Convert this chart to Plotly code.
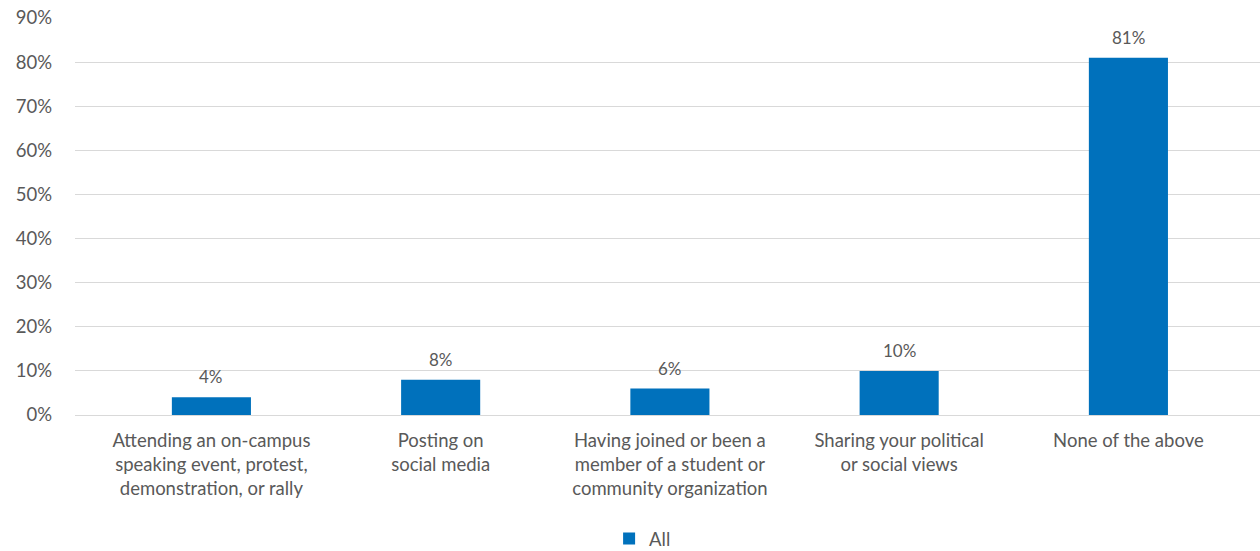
import plotly.graph_objects as go

# Survey responses: share of students reporting each activity
categories = [
    "Attending an on-campus<br>speaking event, protest,<br>demonstration, or rally",
    "Posting on<br>social media",
    "Having joined or been a<br>member of a student or<br>community organization",
    "Sharing your political<br>or social views",
    "None of the above",
]
values_all = [4, 8, 6, 10, 81]
y_ticks = [0, 10, 20, 30, 40, 50, 60, 70, 80, 90]
y_tick_labels = [f"{v}%" for v in y_ticks]

FONT = "Lato"
GREY = "#595959"
BLUE = "#0071BC"

fig = go.Figure()
fig.add_trace(go.Bar(
    x=list(range(len(categories))),
    y=values_all,
    name="All",
    marker=dict(color=BLUE, line=dict(width=0)),
    width=0.345,
    cliponaxis=False,
))

# value labels sitting above each bar
for i, v in enumerate(values_all):
    fig.add_annotation(
        x=i, y=v, text=f"{v}%",
        showarrow=False, yanchor="bottom", yshift=8,
        font=dict(family=FONT, size=17, color=GREY),
    )

fig.update_layout(
    width=1260,
    height=551,
    margin=dict(l=75, r=0, t=18, b=136, autoexpand=False),
    paper_bgcolor="white",
    plot_bgcolor="white",
    font=dict(family=FONT, size=18, color=GREY),
    showlegend=True,
    legend=dict(
        orientation="h",
        xref="container", yref="paper",
        x=0.51, y=-0.312,
        xanchor="center", yanchor="middle",
        bgcolor="rgba(0,0,0,0)",
        font=dict(family=FONT, size=18.5, color=GREY),
        itemwidth=30,
    ),
)

fig.update_xaxes(
    tickmode="array",
    tickvals=list(range(len(categories))),
    ticktext=categories,
    tickangle=0,
    automargin=False,
    range=[-0.595, 4.574],
    showgrid=False,
    showline=False,
    zeroline=False,
    ticks="",
    ticklabelstandoff=12,
    tickfont=dict(family=FONT, size=18.5, color=GREY),
)

fig.update_yaxes(
    range=[0, 90],
    tickmode="array",
    tickvals=y_ticks,
    ticktext=y_tick_labels,
    automargin=False,
    showgrid=True,
    gridcolor="#D9D9D9",
    gridwidth=1,
    zeroline=True,
    zerolinecolor="#D9D9D9",
    zerolinewidth=1,
    showline=False,
    ticks="",
    ticklabelstandoff=22,
    tickfont=dict(family=FONT, size=18.5, color=GREY),
)

fig.write_html("out.html")
